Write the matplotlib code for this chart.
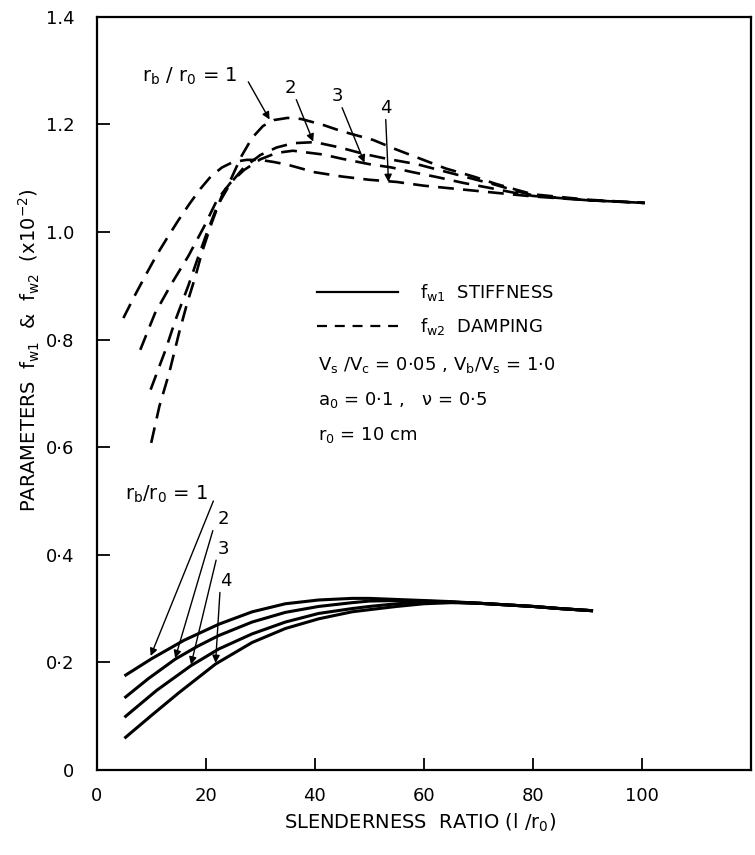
import matplotlib.pyplot as plt
from matplotlib.lines import Line2D

# damping curves f_w2 (x10^-2) for r_b/r_0 = 1..4
d1_x = [10.0, 11.5, 13.3, 15.1, 16.6, 18.1, 19.3, 21.1, 22.9, 24.7, 26.5, 28.5, 30.5, 32.5, 35.0, 37.5,
        41.5, 45.0, 50.7, 55.0, 59.9, 64.0, 69.1, 73.0, 77.1, 80.0, 90.0, 100.5]
d1_y = [0.608, 0.676, 0.738, 0.812, 0.868, 0.917, 0.962, 1.017, 1.066, 1.100, 1.140, 1.175, 1.197, 1.208,
        1.212, 1.210, 1.199, 1.187, 1.171, 1.153, 1.134, 1.118, 1.103, 1.090, 1.078, 1.070, 1.060, 1.054]

d2_x = [9.9, 12.6, 14.4, 16.8, 18.5, 20.2, 22.1, 24.5, 27.0, 30.0, 33.0, 36.0, 40.0, 44.6, 49.0, 53.2,
        58.7, 63.6, 68.5, 73.0, 77.0, 80.0, 90.0, 100.5]
d2_y = [0.707, 0.780, 0.835, 0.900, 0.950, 0.998, 1.048, 1.090, 1.120, 1.143, 1.157, 1.165, 1.167, 1.157,
        1.145, 1.136, 1.126, 1.113, 1.100, 1.088, 1.076, 1.068, 1.059, 1.054]

d3_x = [8.0, 10.7, 13.8, 16.8, 19.7, 22.1, 24.5, 27.0, 30.0, 33.0, 36.0, 41.5, 45.0, 50.0, 54.0, 58.0,
        62.4, 67.3, 72.0, 77.0, 80.0, 90.0, 100.5]
d3_y = [0.781, 0.849, 0.905, 0.955, 1.010, 1.060, 1.091, 1.115, 1.135, 1.147, 1.151, 1.144, 1.136, 1.126,
        1.120, 1.111, 1.102, 1.091, 1.082, 1.072, 1.067, 1.059, 1.054]

d4_x = [4.9, 7.0, 9.0, 11.0, 13.0, 15.0, 17.0, 19.0, 21.0, 23.0, 25.0, 27.5, 30.0, 32.5, 35.0, 40.0,
        45.0, 50.0, 55.0, 60.0, 65.0, 70.0, 75.0, 80.0, 90.0, 100.5]
d4_y = [0.840, 0.882, 0.920, 0.957, 0.990, 1.022, 1.052, 1.080, 1.104, 1.120, 1.130, 1.134, 1.134, 1.130,
        1.125, 1.111, 1.103, 1.097, 1.093, 1.086, 1.081, 1.076, 1.071, 1.066, 1.059, 1.054]

# stiffness curves f_w1 for r_b/r_0 = 1..4
s1_x = [5.1, 10.1, 16.0, 22.4, 28.5, 34.6, 40.7, 46.8, 50.0, 55.0, 60.0, 65.0, 70.0, 75.0, 80.0, 85.0, 91.0]
s1_y = [0.175, 0.207, 0.241, 0.271, 0.294, 0.309, 0.316, 0.319, 0.319, 0.317, 0.315, 0.313, 0.310,
        0.307, 0.304, 0.300, 0.296]

s2_x = [5.1, 9.5, 14.4, 18.5, 22.4, 28.5, 34.6, 40.7, 46.8, 50.0, 55.0, 60.0, 65.0, 70.0, 75.0, 80.0, 85.0, 91.0]
s2_y = [0.134, 0.170, 0.206, 0.230, 0.250, 0.275, 0.293, 0.304, 0.311, 0.314, 0.315, 0.314, 0.312, 0.310,
        0.307, 0.304, 0.300, 0.296]

s3_x = [5.1, 11.0, 17.3, 22.4, 28.5, 34.6, 40.7, 46.8, 50.0, 55.0, 60.0, 65.0, 70.0, 75.0, 80.0, 85.0, 91.0]
s3_y = [0.098, 0.148, 0.194, 0.225, 0.253, 0.275, 0.291, 0.300, 0.304, 0.309, 0.312, 0.312, 0.310,
        0.307, 0.304, 0.300, 0.296]

s4_x = [5.1, 10.0, 15.0, 21.8, 28.5, 34.6, 40.7, 46.8, 50.0, 55.0, 60.0, 65.0, 70.0, 75.0, 80.0, 85.0, 91.0]
s4_y = [0.059, 0.101, 0.143, 0.197, 0.237, 0.263, 0.281, 0.294, 0.298, 0.304, 0.309, 0.311, 0.310,
        0.307, 0.304, 0.300, 0.296]

x_ticks = [0, 20, 40, 60, 80, 100]
y_ticks = [0, 0.2, 0.4, 0.6, 0.8, 1.0, 1.2, 1.4]
y_tick_labels = ['0', '0·2', '0·4', '0·6', '0·8', '1.0', '1.2', '1.4']

dash = (6, 3.5)
lw = 1.9

fig = plt.figure(figsize=(7.55, 8.55), dpi=100)
ax = fig.add_axes([0.128, 0.0994, 0.867, 0.881])

for xs, ys in [(d1_x, d1_y), (d2_x, d2_y), (d3_x, d3_y), (d4_x, d4_y)]:
    ax.plot(xs, ys, color='black', lw=lw, linestyle=(0, dash))

for xs, ys in [(s1_x, s1_y), (s2_x, s2_y), (s3_x, s3_y), (s4_x, s4_y)]:
    ax.plot(xs, ys, color='black', lw=lw + 0.3, solid_capstyle='butt', solid_joinstyle='round')

ax.set_xlim(0, 120)
ax.set_ylim(0, 1.4)
ax.set_xticks(x_ticks)
ax.set_yticks(y_ticks)
ax.set_yticklabels(y_tick_labels)
ax.tick_params(axis='both', direction='in', length=9, width=1.3, labelsize=13)
ax.tick_params(axis='y', pad=16)
ax.tick_params(axis='x', pad=12)
for sp in ax.spines.values():
    sp.set_linewidth(1.6)

fig.text(0.556, 0.038, 'SLENDERNESS  RATIO (l /r$_0$)', ha='center', va='center', fontsize=14)
fig.text(0.039, 0.59, r'PARAMETERS  f$_{\mathrm{w1}}$  &  f$_{\mathrm{w2}}$  (x10$^{-2}$)',
         ha='center', va='center', rotation=90, fontsize=14)

# legend and parameters
handles = [Line2D([], [], color='black', lw=1.6),
           Line2D([], [], color='black', lw=1.6, linestyle=(0, (4.5, 3.5)))]
ax.legend(handles, [r'f$_{\mathrm{w1}}$  STIFFNESS', r'f$_{\mathrm{w2}}$  DAMPING'],
          loc='upper left', bbox_to_anchor=(0.337, 0.648), frameon=False, fontsize=13,
          handlelength=4.5, handletextpad=1.2, labelspacing=0.75, borderpad=0, borderaxespad=0)
ax.text(0.338, 0.538, r'V$_{\mathrm{s}}$ /V$_{\mathrm{c}}$ = 0·05 , V$_{\mathrm{b}}$/V$_{\mathrm{s}}$ = 1·0',
        transform=ax.transAxes, fontsize=13, va='center')
ax.text(0.338, 0.491, r'a$_{0}$ = 0·1 ,   ν = 0·5', transform=ax.transAxes, fontsize=13, va='center')
ax.text(0.338, 0.445, r'r$_{0}$ = 10 cm', transform=ax.transAxes, fontsize=13, va='center')

arrow = dict(arrowstyle='-|>', color='black', lw=1.0, mutation_scale=11, shrinkA=0, shrinkB=0)

# damping labels
ax.text(17.0, 1.289, r'r$_{\mathrm{b}}$ / r$_{0}$ = 1', ha='center', va='center', fontsize=14)
ax.annotate('', xy=(31.7, 1.209), xytext=(27.8, 1.279), arrowprops=arrow)
ax.text(35.6, 1.268, '2', ha='center', va='center', fontsize=13)
ax.annotate('', xy=(39.7, 1.168), xytext=(36.6, 1.246), arrowprops=arrow)
ax.text(44.1, 1.253, '3', ha='center', va='center', fontsize=13)
ax.annotate('', xy=(49.1, 1.129), xytext=(45.0, 1.231), arrowprops=arrow)
ax.text(53.0, 1.231, '4', ha='center', va='center', fontsize=13)
ax.annotate('', xy=(53.5, 1.093), xytext=(53.0, 1.209), arrowprops=arrow)

# stiffness labels
ax.text(12.8, 0.512, r'r$_{\mathrm{b}}$/r$_{0}$ = 1', ha='center', va='center', fontsize=14)
ax.annotate('', xy=(9.9, 0.212), xytext=(21.4, 0.50), arrowprops=arrow)
ax.text(23.2, 0.466, '2', ha='center', va='center', fontsize=13)
ax.annotate('', xy=(14.4, 0.208), xytext=(21.3, 0.445), arrowprops=arrow)
ax.text(23.2, 0.41, '3', ha='center', va='center', fontsize=13)
ax.annotate('', xy=(17.3, 0.196), xytext=(21.9, 0.39), arrowprops=arrow)
ax.text(23.6, 0.352, '4', ha='center', va='center', fontsize=13)
ax.annotate('', xy=(21.8, 0.199), xytext=(22.6, 0.33), arrowprops=arrow)

fig.savefig('out.png', dpi=100)
